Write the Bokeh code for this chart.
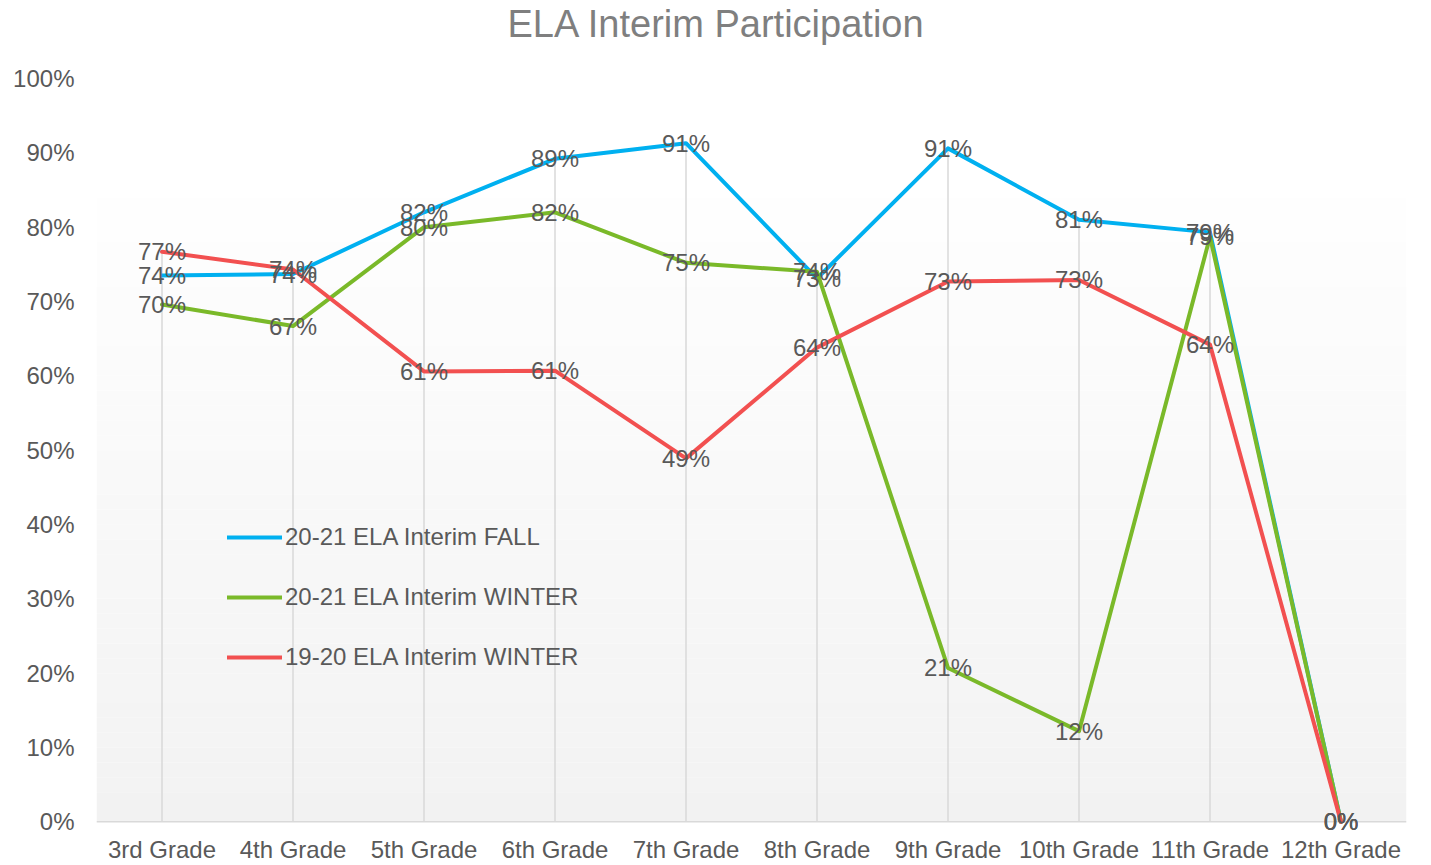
from bokeh.plotting import figure
from bokeh.models import (ColumnDataSource, FixedTicker, NumeralTickFormatter, Legend,
                          LegendItem, BoxAnnotation, FactorRange, Range1d, LabelSet, Span, Title)
from bokeh.core.properties import value
from bokeh.embed import file_html
from bokeh.resources import INLINE

grades = ["3rd Grade", "4th Grade", "5th Grade", "6th Grade", "7th Grade",
          "8th Grade", "9th Grade", "10th Grade", "11th Grade", "12th Grade"]
fall_2021 = [0.735, 0.737, 0.820, 0.892, 0.913, 0.731, 0.906, 0.810, 0.793, 0.0]
winter_2021 = [0.696, 0.667, 0.800, 0.820, 0.752, 0.740, 0.207, 0.122, 0.787, 0.0]
winter_1920 = [0.767, 0.743, 0.606, 0.607, 0.489, 0.638, 0.727, 0.729, 0.642, 0.0]
series_names = ["20-21 ELA Interim FALL", "20-21 ELA Interim WINTER", "19-20 ELA Interim WINTER"]
series_colors = ["#00b0f0", "#7ab929", "#f25050"]
y_ticks = [0.0, 0.1, 0.2, 0.3, 0.4, 0.5, 0.6, 0.7, 0.8, 0.9, 1.0]

FONT = "Liberation Sans"
TXT = "#595959"

p = figure(width=1431, height=865, x_range=FactorRange(*grades), y_range=Range1d(-0.017, 1),
           output_backend="svg", toolbar_location=None,
           min_border_left=96, min_border_right=25, min_border_top=77, min_border_bottom=31)
p.outline_line_color = None
p.background_fill_color = "white"
p.border_fill_color = "white"

# background gradient (white at top to light gray at bottom), above the 0% line
n = 44
top = 0.88
for i in range(n):
    b0 = top * i / n
    b1 = top * (i + 1) / n
    f = (i + 0.5) / n
    g = int(round(242 + 13 * f))
    p.add_layout(BoxAnnotation(bottom=b0, top=b1, fill_color=(g, g, g), fill_alpha=1,
                               line_color=None, level="underlay"))
p.add_layout(Span(location=0, dimension="width", line_color="#d9d9d9", line_width=1.5,
                  level="underlay"))

# spacer between title and plot area
p.add_layout(Title(text=" ", text_font_size="1px", standoff=31), "above")

p.title.text = "ELA Interim Participation"
p.title.align = "left"
p.title.offset = 411
p.title.text_font = FONT
p.title.text_font_size = "38px"
p.title.text_font_style = "normal"
p.title.text_color = "#7f7f7f"
p.title.standoff = 0

# drop lines
drop_top = [max(a, b, c) for a, b, c in zip(fall_2021, winter_2021, winter_1920)]
p.segment(x0=grades, y0=[0] * len(grades), x1=grades, y1=drop_top,
          line_color="#d9d9d9", line_width=1.5)

renderers = []
for vals, col in zip([fall_2021, winter_2021, winter_1920], series_colors):
    r = p.line(grades, vals, line_color=col, line_width=4, line_cap="round", line_join="round")
    renderers.append(r)

for vals in [fall_2021, winter_2021, winter_1920]:
    src = ColumnDataSource(dict(x=grades, y=vals, t=["%d%%" % round(v * 100) for v in vals]))
    p.add_layout(LabelSet(x="x", y="y", text="t", source=src, text_font=value(FONT),
                          text_font_size=value("24px"), text_color=TXT,
                          text_align="center", text_baseline="middle"))

legend = Legend(items=[LegendItem(label=nm, renderers=[r]) for nm, r in zip(series_names, renderers)],
                location=(131, 163), padding=0, margin=0, spacing=32,
                glyph_width=55, glyph_height=24, label_height=24, label_standoff=3,
                label_text_font=FONT, label_text_font_size="24px", label_text_color=TXT,
                border_line_color=None, background_fill_alpha=0)
p.add_layout(legend, "center")

p.xgrid.grid_line_color = None
p.ygrid.grid_line_color = None

p.yaxis.ticker = FixedTicker(ticks=y_ticks)
p.yaxis.formatter = NumeralTickFormatter(format="0%")
p.yaxis.axis_line_color = None
p.yaxis.major_tick_line_color = None
p.yaxis.minor_tick_line_color = None
p.yaxis.major_tick_out = 0
p.yaxis.major_tick_in = 0
p.yaxis.minor_tick_out = 0
p.yaxis.major_label_standoff = 22
p.yaxis.major_label_text_font = FONT
p.yaxis.major_label_text_font_size = "24px"
p.yaxis.major_label_text_color = TXT

p.xaxis.axis_line_color = None
p.xaxis.major_tick_line_color = None
p.xaxis.minor_tick_line_color = None
p.xaxis.major_tick_out = 0
p.xaxis.major_tick_in = 0
p.xaxis.minor_tick_out = 0
p.xaxis.major_label_standoff = 1
p.xaxis.major_label_text_font = FONT
p.xaxis.major_label_text_font_size = "24px"
p.xaxis.major_label_text_color = TXT

open("out.html", "w").write(file_html(p, INLINE))
